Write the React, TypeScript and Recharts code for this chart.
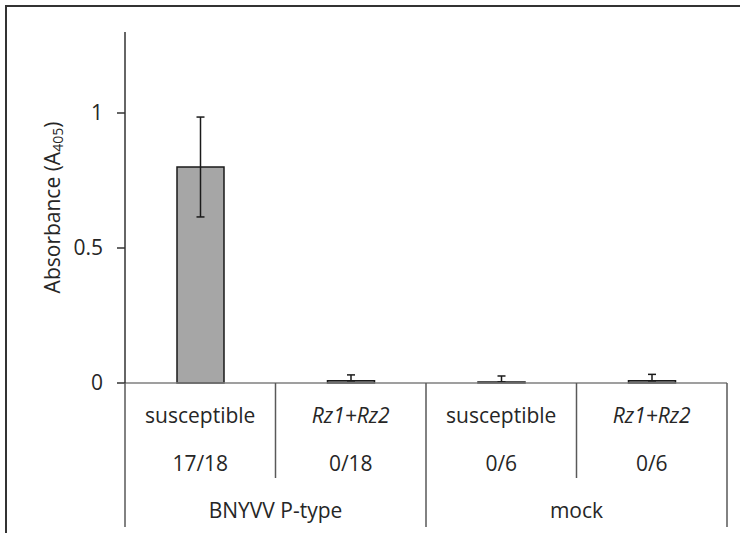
import { Bar, BarChart, ErrorBar, XAxis, YAxis } from 'recharts';

const groups = ['BNYVV P-type', 'BNYVV P-type', 'mock', 'mock'];
const genotypes = ['susceptible', 'Rz1+Rz2', 'susceptible', 'Rz1+Rz2'];
const infected = ['17/18', '0/18', '0/6', '0/6'];
const absorbance = [0.8, 0.008, 0.004, 0.008];
const errorUp = [0.185, 0.022, 0.022, 0.024];
const errorDown = [0.185, 0, 0, 0];
const yTicks = [0, 0.5, 1];

const WIDTH = 740;
const HEIGHT = 533;
const Y_AXIS_W = 125;
const RIGHT = 13;
const BAND = (WIDTH - Y_AXIS_W - RIGHT) / genotypes.length;
const FONT = "'Open Sans', sans-serif";
const TEXT = '#262626';
const LINE = '#595959';

const data = genotypes.map((g, i) => ({
    key: `${groups[i]}|${g}|${i}`,
    value: absorbance[i],
    err: [errorDown[i], errorUp[i]],
}));

// two rows of labels per bar, group label under each pair, and the dividers between them
const CategoryTick = (props: any) => {
    const { x, y, index } = props;
    const half = BAND / 2;
    const groupStart = index % 2 === 0;
    const last = index === genotypes.length - 1;
    return (
        <g>
            <line x1={x - half} x2={x - half} y1={y} y2={y + (groupStart ? 144 : 95)} stroke={LINE} strokeWidth={1.5} />
            {last && <line x1={x + half} x2={x + half} y1={y} y2={y + 144} stroke={LINE} strokeWidth={1.5} />}
            <text x={x} y={y + 40} textAnchor="middle" fontSize={21} fill={TEXT} fontFamily={FONT}
                fontStyle={genotypes[index] === 'susceptible' ? 'normal' : 'italic'}>
                {genotypes[index]}
            </text>
            <text x={x} y={y + 88} textAnchor="middle" fontSize={21} fill={TEXT} fontFamily={FONT}>
                {infected[index]}
            </text>
            {groupStart && (
                <text x={x + half} y={y + 135} textAnchor="middle" fontSize={21} fill={TEXT} fontFamily={FONT}>
                    {groups[index]}
                </text>
            )}
        </g>
    );
};

const YLabel = (props: any) => {
    const vb = props.viewBox || { x: 0, y: 32, height: 351 };
    const cx = vb.x + 52;
    const cy = vb.y + vb.height / 2;
    return (
        <text x={cx} y={cy} transform={`rotate(-90, ${cx}, ${cy})`} textAnchor="middle" dominantBaseline="central"
            fontSize={21} fill={TEXT} fontFamily={FONT}>
            Absorbance (A
            <tspan dy={5} fontSize={14}>405</tspan>
            <tspan dy={-5}>)</tspan>
        </text>
    );
};

const App = () => {
    return (
        <div style={{ position: 'absolute', left: 0, top: 0, width: WIDTH, height: HEIGHT, background: '#fff', overflow: 'hidden' }}>
            <svg width={WIDTH} height={HEIGHT} style={{ position: 'absolute', left: 0, top: 0 }}>
                <polyline points={`6,${HEIGHT} 6,6 ${WIDTH},6`} fill="none" stroke="#333" strokeWidth={2} />
            </svg>
            <BarChart width={WIDTH} height={HEIGHT} data={data}
                margin={{ top: 32, right: RIGHT, left: 0, bottom: 5 }}
                style={{ fontFamily: FONT }}>
                <XAxis dataKey="key" height={145} interval={0} tickLine={false} tickSize={0} tickMargin={0}
                    axisLine={{ stroke: '#7f7f7f', strokeWidth: 1.5 }} tick={<CategoryTick />} />
                <YAxis width={Y_AXIS_W} domain={[0, 1.3]} ticks={yTicks} tickSize={8} tickMargin={14}
                    tickFormatter={(v: number) => String(v)}
                    axisLine={{ stroke: '#333', strokeWidth: 1.5 }} tickLine={{ stroke: '#333', strokeWidth: 1.5 }}
                    tick={{ fontSize: 21, fill: TEXT, fontFamily: FONT }}
                    label={{ content: (p: any) => <YLabel {...p} /> }} />
                <Bar dataKey="value" fill="#a6a6a6" stroke="#1a1a1a" strokeWidth={1.5} barSize={47} isAnimationActive={false}>
                    <ErrorBar dataKey="err" width={4} stroke="#1a1a1a" strokeWidth={1.5} direction="y" isAnimationActive={false} />
                </Bar>
            </BarChart>
        </div>
    );
};

export default App;
